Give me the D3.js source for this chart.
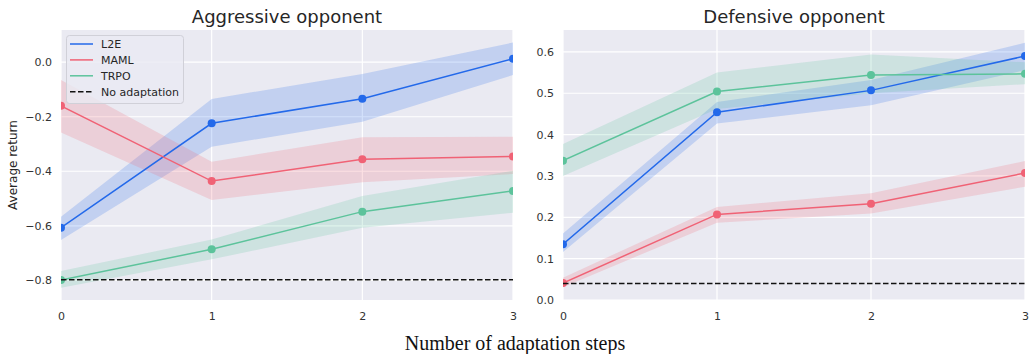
<!DOCTYPE html>
<html>
<head>
<meta charset="utf-8">
<script src="https://cdn.jsdelivr.net/npm/d3@7"></script>
<style>
  body { margin: 0; background: #fff; }
  text { font-family: 'DejaVu Sans', sans-serif; }
</style>
</head>
<body>
<div id="chart"></div>
<script>
const steps = [0, 1, 2, 3]

// Aggressive opponent
const aggL2E = [-0.607, -0.224, -0.134, 0.013]
const aggL2ELo = [-0.652, -0.31, -0.218, -0.047]
const aggL2EHi = [-0.567, -0.135, -0.043, 0.072]
const aggMAML = [-0.16, -0.436, -0.356, -0.346]
const aggMAMLLo = [-0.258, -0.505, -0.44, -0.41]
const aggMAMLHi = [-0.065, -0.365, -0.275, -0.273]
const aggTRPO = [-0.799, -0.686, -0.548, -0.472]
const aggTRPOLo = [-0.827, -0.723, -0.607, -0.552]
const aggTRPOHi = [-0.766, -0.65, -0.491, -0.398]
const aggNoAdapt = -0.798

// Defensive opponent
const defL2E = [0.135, 0.454, 0.507, 0.59]
const defL2ELo = [0.116, 0.427, 0.471, 0.556]
const defL2EHi = [0.161, 0.479, 0.532, 0.622]
const defMAML = [0.041, 0.207, 0.233, 0.307]
const defMAMLLo = [0.031, 0.187, 0.209, 0.274]
const defMAMLHi = [0.054, 0.225, 0.258, 0.336]
const defTRPO = [0.337, 0.504, 0.544, 0.547]
const defTRPOLo = [0.3, 0.462, 0.5, 0.522]
const defTRPOHi = [0.377, 0.55, 0.594, 0.575]
const defNoAdapt = 0.04

const aggTicks = [0.0, -0.2, -0.4, -0.6, -0.8]
const defTicks = [0.0, 0.1, 0.2, 0.3, 0.4, 0.5, 0.6]

const colors = { L2E: '#2369ea', MAML: '#f06275', TRPO: '#5cc39b' }

let svg = d3
  .select('#chart')
  .append('svg')
  .attr('width', 1030)
  .attr('height', 354)

let defs = svg.append('defs')

function panel(opts) {
  let x = d3.scaleLinear().domain([0, 3]).range([opts.left, opts.right])
  let y = d3.scaleLinear().domain(opts.domain).range([300, 30])
  let g = svg.append('g')

  defs.append('clipPath')
    .attr('id', 'clip-' + opts.id)
    .append('rect')
    .attr('x', opts.left)
    .attr('y', 30)
    .attr('width', opts.right - opts.left)
    .attr('height', 270)

  g.append('rect')
    .attr('x', opts.left)
    .attr('y', 30)
    .attr('width', opts.right - opts.left)
    .attr('height', 270)
    .attr('fill', '#eaeaf2')

  // grid
  g.selectAll('.hgrid')
    .data(opts.ticks)
    .enter()
    .append('line')
    .attr('x1', opts.left)
    .attr('x2', opts.right)
    .attr('y1', d => y(d))
    .attr('y2', d => y(d))
    .attr('stroke', '#fff')
    .attr('stroke-width', 1.2)

  g.selectAll('.vgrid')
    .data(steps)
    .enter()
    .append('line')
    .attr('x1', d => x(d))
    .attr('x2', d => x(d))
    .attr('y1', 30)
    .attr('y2', 300)
    .attr('stroke', '#fff')
    .attr('stroke-width', 1.2)

  // axes (no domain lines)
  let yAxis = g.append('g')
    .attr('transform', `translate(${opts.left},0)`)
    .call(d3.axisLeft(y).tickValues(opts.ticks).tickSize(0).tickPadding(9)
      .tickFormat(d => d3.format('.1f')(d).replace('-', '\u2212')))
  yAxis.select('.domain').remove()
  yAxis.selectAll('text').attr('font-size', 11).attr('fill', '#333')
    .style('font-family', 'DejaVu Sans')

  let xAxis = g.append('g')
    .attr('transform', 'translate(0,300)')
    .call(d3.axisBottom(x).tickValues(steps).tickSize(0).tickPadding(12).tickFormat(d3.format('d')))
  xAxis.select('.domain').remove()
  xAxis.selectAll('text').attr('font-size', 11).attr('fill', '#333')
    .style('font-family', 'DejaVu Sans')

  let clip = g.append('g').attr('clip-path', `url(#clip-${opts.id})`)

  let area = d3.area()
    .x((d, i) => x(steps[i]))
    .y0(d => y(d[0]))
    .y1(d => y(d[1]))
  let line = d3.line()
    .x((d, i) => x(steps[i]))
    .y(d => y(d))

  opts.series.forEach(s => {
    clip.append('path')
      .datum(s.lo.map((v, i) => [v, s.hi[i]]))
      .attr('d', area)
      .attr('fill', colors[s.name])
      .attr('opacity', 0.2)
  })

  opts.series.forEach(s => {
    clip.append('path')
      .datum(s.mean)
      .attr('d', line)
      .attr('fill', 'none')
      .attr('stroke', colors[s.name])
      .attr('stroke-width', 1.5)
    clip.selectAll('.pt-' + s.name)
      .data(s.mean)
      .enter()
      .append('circle')
      .attr('cx', (d, i) => x(steps[i]))
      .attr('cy', d => y(d))
      .attr('r', 4)
      .attr('fill', colors[s.name])
  })

  clip.append('line')
    .attr('x1', opts.left)
    .attr('x2', opts.right)
    .attr('y1', y(opts.noAdapt))
    .attr('y2', y(opts.noAdapt))
    .attr('stroke', '#111')
    .attr('stroke-width', 1.5)
    .attr('stroke-dasharray', '5.5,2.5')

  g.append('text')
    .attr('x', (opts.left + opts.right) / 2)
    .attr('y', 23)
    .attr('text-anchor', 'middle')
    .attr('font-size', 18)
    .attr('fill', '#262626')
    .text(opts.title)

  return g
}

panel({
  id: 'agg',
  left: 61, right: 513,
  domain: [-0.872, 0.118],
  ticks: aggTicks,
  noAdapt: aggNoAdapt,
  title: 'Aggressive opponent',
  series: [
    { name: 'L2E', mean: aggL2E, lo: aggL2ELo, hi: aggL2EHi },
    { name: 'MAML', mean: aggMAML, lo: aggMAMLLo, hi: aggMAMLHi },
    { name: 'TRPO', mean: aggTRPO, lo: aggTRPOLo, hi: aggTRPOHi }
  ]
})

panel({
  id: 'def',
  left: 563, right: 1025,
  domain: [0, 0.653],
  ticks: defTicks,
  noAdapt: defNoAdapt,
  title: 'Defensive opponent',
  series: [
    { name: 'L2E', mean: defL2E, lo: defL2ELo, hi: defL2EHi },
    { name: 'MAML', mean: defMAML, lo: defMAMLLo, hi: defMAMLHi },
    { name: 'TRPO', mean: defTRPO, lo: defTRPOLo, hi: defTRPOHi }
  ]
})

// legend
let legendItems = [
  { label: 'L2E', color: colors.L2E, dash: null },
  { label: 'MAML', color: colors.MAML, dash: null },
  { label: 'TRPO', color: colors.TRPO, dash: null },
  { label: 'No adaptation', color: '#111', dash: '5.5,2.5' }
]
let legend = svg.append('g')
legend.append('rect')
  .attr('x', 66.5).attr('y', 35.5)
  .attr('width', 117).attr('height', 68)
  .attr('rx', 3)
  .attr('fill', '#eaeaf2').attr('fill-opacity', 0.8)
  .attr('stroke', '#d0d0d8')
let li = legend.selectAll('.li')
  .data(legendItems)
  .enter()
  .append('g')
  .attr('transform', (d, i) => `translate(0,${44 + i * 15.9})`)
li.append('line')
  .attr('x1', 70).attr('x2', 93)
  .attr('stroke', d => d.color)
  .attr('stroke-width', 1.5)
  .attr('stroke-dasharray', d => d.dash)
li.append('text')
  .attr('x', 101).attr('y', 4)
  .attr('font-size', 11)
  .attr('fill', '#262626')
  .text(d => d.label)

svg.append('text')
  .attr('transform', 'translate(17,165) rotate(-90)')
  .attr('text-anchor', 'middle')
  .attr('font-size', 12)
  .attr('fill', '#262626')
  .text('Average return')

svg.append('text')
  .attr('x', 515)
  .attr('y', 350)
  .attr('text-anchor', 'middle')
  .attr('font-size', 20)
  .style('font-family', "'Liberation Serif', 'Times New Roman', serif")
  .attr('fill', '#111')
  .text('Number of adaptation steps')
</script>
</body>
</html>
